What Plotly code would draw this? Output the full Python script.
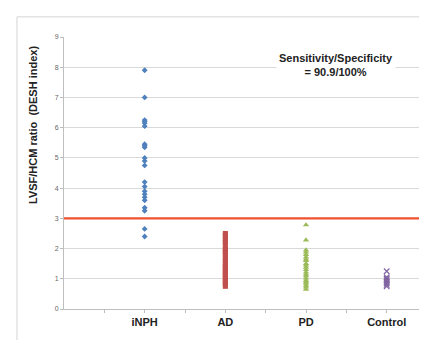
import plotly.graph_objects as go

categories = ["iNPH", "AD", "PD", "Control"]
inph = [7.9, 7.0, 6.25, 6.2, 6.15, 6.05, 5.45, 5.4, 5.35, 5.0, 4.9, 4.75,
        4.2, 4.05, 3.9, 3.8, 3.7, 3.6, 3.35, 3.25, 2.65, 2.4]
ad = [2.5, 2.45, 2.4, 2.3, 2.25, 2.2, 2.1, 2.0, 1.95, 1.9, 1.85, 1.8, 1.7,
      1.65, 1.6, 1.5, 1.45, 1.4, 1.35, 1.3, 1.25, 1.2, 1.15, 1.1, 1.05, 1.0,
      0.95, 0.9, 0.85, 0.8, 0.75]
pd_vals = [2.78, 2.28, 1.95, 1.88, 1.8, 1.72, 1.65, 1.6, 1.5, 1.45, 1.38, 1.3,
           1.22, 1.15, 1.1, 1.02, 0.95, 0.9, 0.85, 0.78, 0.72, 0.65]
control = [1.25, 1.05, 1.0, 0.95, 0.9, 0.85, 0.8, 0.75]
threshold = 3
y_ticks = list(range(0, 10))

series = [inph, ad, pd_vals, control]
colors = ["#4F81BD", "#C0504D", "#9BBB59", "#8064A2"]
symbols = ["diamond", "square", "triangle-up", "x-thin"]
sizes = [4.5, 5, 5.5, 5.5]

fig = go.Figure()
for i, (name, vals) in enumerate(zip(categories, series)):
    xpos = 2 * (i + 1)
    fig.add_trace(go.Scatter(
        x=[xpos] * len(vals), y=vals, mode="markers", name=name,
        marker=dict(color=colors[i], symbol=symbols[i], size=sizes[i],
                    line=dict(color=colors[i], width=1.2 if symbols[i] == "x-thin" else 0)),
        showlegend=False))

ticktext = []
for v in range(1, 9):
    ticktext.append("<b>" + categories[v // 2 - 1] + "</b>" if v % 2 == 0 else "")

fig.update_layout(
    width=427, height=340,
    margin=dict(l=56, r=12, t=29, b=39),
    paper_bgcolor="white", plot_bgcolor="white",
    font=dict(family="Arial, Liberation Sans, sans-serif", color="#222"),
    xaxis=dict(range=[0, 8.9], tickmode="array", tickvals=list(range(1, 9)),
               ticktext=ticktext, ticks="outside", ticklen=3, tickcolor="#bbbbbb",
               showgrid=False, zeroline=False, showline=True, linecolor="#bfbfbf",
               linewidth=1, tickfont=dict(size=11, color="#222"),
               ticklabelstandoff=0),
    yaxis=dict(range=[0, 9], tickmode="array", tickvals=y_ticks,
               ticks="outside", ticklen=3, tickcolor="#bbbbbb",
               showgrid=True, gridcolor="#d9d9d9", gridwidth=1, zeroline=False,
               showline=True, linecolor="#bfbfbf", linewidth=1,
               tickfont=dict(size=7, color="#666")),
)

fig.add_shape(type="line", xref="paper", yref="y", x0=0, x1=1, y0=threshold, y1=threshold,
              line=dict(color="#F0502F", width=2.2))

fig.add_shape(type="rect", xref="paper", yref="paper", x0=-0.131, x1=1.02, y0=-0.136, y1=1.074,
              line=dict(color="#d4d4d4", width=1), layer="below")

fig.add_annotation(xref="paper", yref="paper", x=(328 - 56) / 359, y=(301 - 57) / 272,
                   text="<b>Sensitivity/Specificity<br>= 90.9/100%</b>", showarrow=False,
                   font=dict(size=11, color="#222"), bgcolor="white", borderpad=2,
                   align="center", xanchor="center", yanchor="middle")

fig.add_annotation(xref="paper", yref="paper", x=(25 - 56) / 359, y=(301 - 117) / 272,
                   text="<b>LVSF/HCM ratio  (DESH index)</b>", showarrow=False, textangle=-90,
                   font=dict(size=11, color="#222"), xanchor="center", yanchor="middle")

fig.write_html("out.html")
